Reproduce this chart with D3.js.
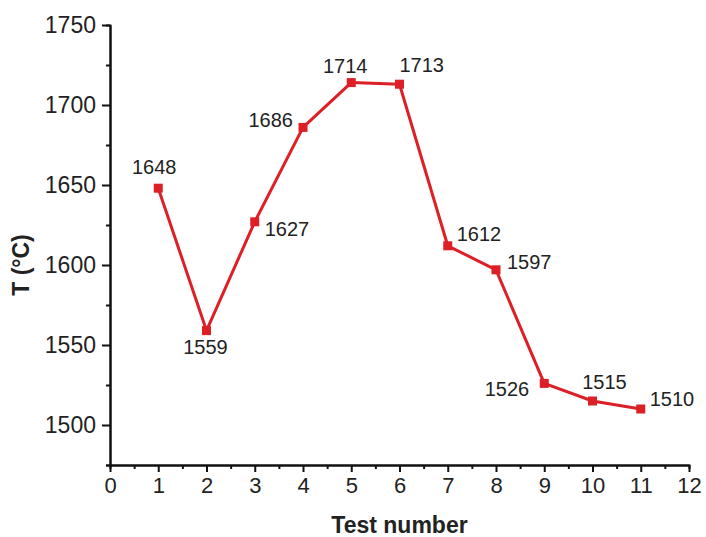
<!DOCTYPE html>
<html>
<head>
<meta charset="utf-8">
<script src="https://cdn.jsdelivr.net/npm/d3@7"></script>
<style>
  body { margin: 0; background: #fff; }
  svg text { font-family: "Liberation Sans", Arial, sans-serif; fill: #222; }
  .axis path, .axis line { stroke: #111; stroke-width: 2; }
</style>
</head>
<body>
<div class="chart"></div>
<script>
// data
const test_numbers = [1, 2, 3, 4, 5, 6, 7, 8, 9, 10, 11];
const temperatures = [1648, 1559, 1627, 1686, 1714, 1713, 1612, 1597, 1526, 1515, 1510];
const x_ticks = [0, 1, 2, 3, 4, 5, 6, 7, 8, 9, 10, 11, 12];
const y_ticks = [1500, 1550, 1600, 1650, 1700, 1750];
// label nudges (px) and anchors, one per point
const label_dx = [-4, -1, 10, -10, -6, 0, 9, 11, -15, 12, 9];
const label_dy = [-14, 23, 14, 0, -10, -12, -5, -1, 13, -12, -3];
const label_anchor = ['middle', 'middle', 'start', 'end', 'middle', 'start',
                      'start', 'start', 'end', 'middle', 'start'];

const svg_width = 706;
const svg_height = 537;
const margin = {top: 25, right: 17, bottom: 72, left: 110};
const chart_width = svg_width - margin.left - margin.right;
const chart_height = svg_height - margin.top - margin.bottom;

const svg = d3.select('.chart').append('svg')
    .attr('width', svg_width)
    .attr('height', svg_height);
const g = svg.append('g')
    .attr('transform', `translate(${margin.left},${margin.top})`);

const x = d3.scaleLinear().domain([0, 12]).range([0, chart_width]);
const y = d3.scaleLinear().domain([1475, 1750]).range([chart_height, 0]);

// minor ticks first so the major ones draw on top
const x_minor = d3.axisBottom(x).tickValues(d3.range(0.5, 12, 1)).tickSize(4).tickFormat('');
g.append('g').attr('class', 'axis')
    .attr('transform', `translate(0,${chart_height})`)
    .call(x_minor);
const y_minor = d3.axisLeft(y).tickValues(d3.range(1475, 1750, 50)).tickSize(4).tickFormat('');
g.append('g').attr('class', 'axis').call(y_minor);

const x_axis = d3.axisBottom(x).tickValues(x_ticks).tickFormat(d3.format('d'))
    .tickSizeInner(7).tickSizeOuter(0).tickPadding(5);
const x_draw = g.append('g').attr('class', 'x axis')
    .attr('transform', `translate(0,${chart_height})`)
    .call(x_axis);
x_draw.selectAll('text').style('font-size', '22px');

const y_axis = d3.axisLeft(y).tickValues(y_ticks).tickFormat(d3.format('d'))
    .tickSizeInner(8).tickSizeOuter(0).tickPadding(6);
const y_draw = g.append('g').attr('class', 'y axis').call(y_axis);
y_draw.selectAll('text').style('font-size', '23px');
g.selectAll('.axis text').attr('fill', '#222');

// series
const data = test_numbers.map((t, i) => ({
    t: t, v: temperatures[i],
    dx: label_dx[i], dy: label_dy[i], anchor: label_anchor[i]
}));
const red = '#dd1f26';

g.append('path')
    .datum(data)
    .attr('fill', 'none')
    .attr('stroke', red)
    .attr('stroke-width', 3)
    .attr('stroke-linejoin', 'round')
    .attr('d', d3.line().x(d => x(d.t)).y(d => y(d.v)));

g.selectAll('.pt')
    .data(data)
    .enter()
    .append('rect')
    .attr('class', 'pt')
    .attr('x', d => x(d.t) - 4.5)
    .attr('y', d => y(d.v) - 4.5)
    .attr('width', 9)
    .attr('height', 9)
    .attr('fill', red);

g.selectAll('.val')
    .data(data)
    .enter()
    .append('text')
    .attr('class', 'val')
    .attr('x', d => x(d.t) + d.dx)
    .attr('y', d => y(d.v) + d.dy)
    .attr('text-anchor', d => d.anchor)
    .style('font-size', '20px')
    .text(d => d.v);

// axis titles
svg.append('text')
    .attr('x', margin.left + chart_width / 2)
    .attr('y', 533)
    .attr('text-anchor', 'middle')
    .style('font-size', '23px')
    .style('font-weight', 'bold')
    .text('Test number');

svg.append('text')
    .attr('transform', 'translate(29,265) rotate(-90)')
    .attr('text-anchor', 'middle')
    .style('font-size', '23px')
    .style('font-weight', 'bold')
    .text('T (°C)');
</script>
</body>
</html>
